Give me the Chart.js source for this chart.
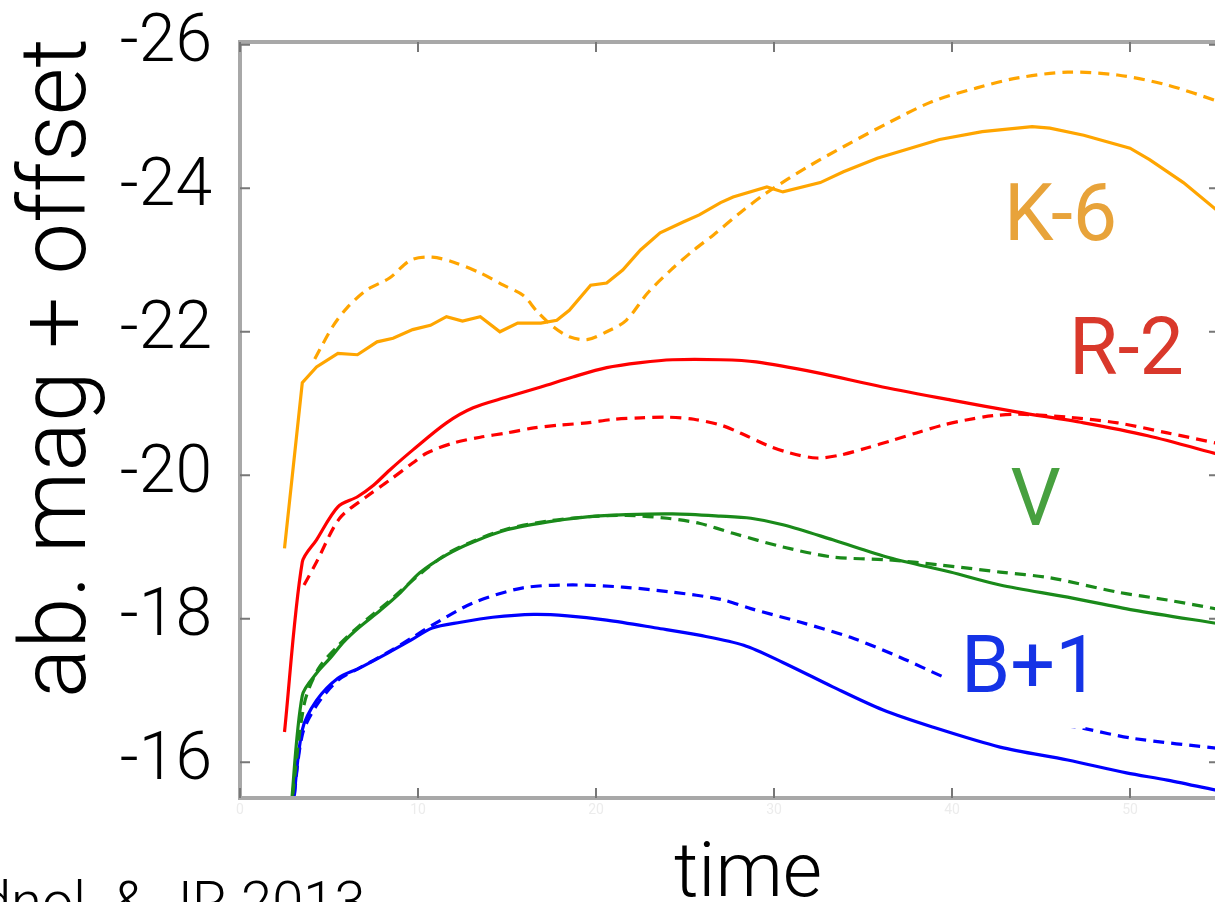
<!DOCTYPE html>
<html>
<head>
<meta charset="utf-8">
<script src="https://cdn.jsdelivr.net/npm/chart.js@4.4.1/dist/chart.umd.min.js"></script>
<style>
html, body { margin: 0; padding: 0; background: #fff; overflow: hidden; }
#wrap { width: 1215px; height: 902px; overflow: hidden; position: relative; }
#grafico { position: absolute; left: 0; top: 0; }
</style>
</head>
<body>
<div id="wrap"><canvas id="grafico" width="1224" height="902"></canvas></div>
<script>
// K-6
const kSolidT = [2.5, 3.5, 4.3, 5.5, 6.6, 7.7, 8.6, 9.7, 10.7, 11.6, 12.5, 13.5, 14.6, 15.6, 16.9, 17.8, 18.5, 19.7, 20.6, 21.5, 22.5, 23.6, 24.9, 25.8, 27.0, 27.7, 29.6, 30.5, 32.6, 33.9, 35.8, 39.3, 41.7, 44.5, 45.5, 47.4, 50.0, 51.1, 53.0, 55.0]
const kSolidMag = [-18.98, -21.29, -21.51, -21.70, -21.68, -21.86, -21.91, -22.03, -22.09, -22.21, -22.15, -22.21, -22.00, -22.12, -22.12, -22.16, -22.30, -22.65, -22.68, -22.86, -23.14, -23.38, -23.53, -23.63, -23.80, -23.88, -24.02, -23.95, -24.08, -24.23, -24.42, -24.68, -24.79, -24.86, -24.84, -24.74, -24.56, -24.40, -24.08, -23.67]
const kDashT = [4.2, 5.2, 6.0, 7.1, 8.4, 9.6, 10.8, 12.0, 13.5, 14.8, 15.9, 16.7, 17.6, 18.5, 19.5, 20.6, 21.7, 22.9, 24.2, 25.5, 26.6, 28.1, 29.6, 31.9, 33.9, 36.4, 38.9, 41.4, 43.7, 46.5, 49.3, 52.1, 55.0]
const kDashMag = [-21.62, -22.07, -22.33, -22.58, -22.75, -23.00, -23.04, -22.97, -22.82, -22.65, -22.51, -22.28, -22.07, -21.93, -21.89, -22.00, -22.16, -22.54, -22.86, -23.14, -23.35, -23.66, -23.94, -24.30, -24.58, -24.91, -25.21, -25.40, -25.54, -25.62, -25.58, -25.44, -25.21]

// R-2
const rSolidT = [2.5, 3.5, 4.3, 5.5, 6.6, 7.5, 8.4, 9.7, 11.6, 13.1, 15.0, 16.9, 18.7, 20.6, 22.5, 24.3, 27.0, 29.0, 32.4, 36.1, 39.9, 43.7, 47.4, 51.0, 55.0]
const rSolidMag = [-16.42, -18.79, -19.10, -19.56, -19.70, -19.86, -20.07, -20.35, -20.73, -20.94, -21.09, -21.23, -21.37, -21.50, -21.57, -21.61, -21.61, -21.58, -21.43, -21.23, -21.05, -20.88, -20.73, -20.55, -20.29]
const rDashT = [3.6, 4.3, 5.6, 7.1, 8.4, 9.7, 10.5, 12.0, 13.5, 15.0, 16.5, 18.0, 19.5, 21.0, 22.5, 24.0, 25.5, 27.0, 28.1, 29.6, 30.9, 32.4, 33.7, 35.2, 36.7, 38.0, 39.5, 40.8, 42.3, 43.8, 46.5, 49.3, 52.1, 55.0]
const rDashMag = [-18.47, -18.79, -19.40, -19.70, -19.93, -20.17, -20.31, -20.45, -20.53, -20.59, -20.66, -20.70, -20.73, -20.78, -20.80, -20.81, -20.78, -20.70, -20.59, -20.42, -20.31, -20.24, -20.28, -20.38, -20.49, -20.59, -20.70, -20.77, -20.83, -20.85, -20.81, -20.73, -20.59, -20.44]

// V
const gSolidT = [2.85, 3.5, 4.3, 5.1, 5.8, 6.7, 7.9, 9.0, 10.1, 11.6, 13.1, 15.0, 17.3, 19.5, 21.7, 24.3, 27.0, 28.7, 30.5, 33.3, 36.5, 39.9, 42.7, 46.5, 50.2, 55.0]
const gSolidMag = [-15.3, -16.93, -17.24, -17.46, -17.67, -17.88, -18.12, -18.36, -18.64, -18.89, -19.07, -19.24, -19.35, -19.42, -19.45, -19.46, -19.43, -19.40, -19.31, -19.10, -18.85, -18.65, -18.47, -18.30, -18.12, -17.93]
const gDashT = [2.85, 3.6, 4.4, 5.5, 6.7, 8.4, 10.1, 11.6, 13.1, 15.0, 17.3, 19.5, 21.7, 24.0, 25.8, 27.7, 30.5, 33.3, 36.4, 39.3, 42.7, 45.5, 49.3, 52.1, 55.0]
const gDashMag = [-15.3, -16.8, -17.3, -17.62, -17.9, -18.25, -18.62, -18.9, -19.08, -19.25, -19.36, -19.42, -19.44, -19.40, -19.33, -19.19, -19.00, -18.86, -18.82, -18.75, -18.65, -18.57, -18.37, -18.26, -18.13]

// B+1
const bSolidT = [2.95, 3.5, 4.3, 5.5, 6.7, 8.3, 9.6, 10.8, 12.4, 14.2, 16.5, 18.4, 20.6, 23.4, 25.8, 28.3, 30.5, 33.3, 36.1, 38.9, 42.7, 46.5, 49.8, 52.1, 55.0]
const bSolidMag = [-15.3, -16.45, -16.86, -17.17, -17.31, -17.52, -17.70, -17.87, -17.95, -18.02, -18.06, -18.04, -17.98, -17.87, -17.77, -17.63, -17.39, -17.05, -16.73, -16.49, -16.21, -16.03, -15.85, -15.75, -15.60]
const bDashT = [2.95, 3.5, 4.3, 5.5, 6.7, 8.3, 9.7, 10.8, 13.1, 15.9, 18.7, 21.5, 24.3, 27.0, 28.7, 31.5, 34.3, 37.1, 39.5, 42.7, 45.5, 47.4, 50.2, 55.0]
const bDashMag = [-15.3, -16.38, -16.79, -17.14, -17.31, -17.53, -17.74, -17.91, -18.22, -18.43, -18.47, -18.44, -18.37, -18.27, -18.14, -17.95, -17.74, -17.46, -17.19, -16.86, -16.56, -16.47, -16.33, -16.19]

const fonte = 'Roboto, "Liberation Sans", sans-serif'

// etiquetas das bandas (posição em unidades dos eixos)
const etiquetas = [
    { texto: 'K-6', cor: '#E8A33A', t: 46.1, mag: -23.55 },
    { texto: 'R-2', cor: '#D9382B', t: 49.8, mag: -21.68 },
    { texto: 'V', cor: '#47A03F', t: 44.7, mag: -19.58 },
    { texto: 'B+1', cor: '#1533E6', t: 44.4, mag: -17.26, caixa: [39.6, 47.5, -17.8, -16.47] }
]

function pontos(t, mag) {
    return t.map((v, i) => ({ x: v, y: mag[i] }))
}

function serie(t, mag, cor, tracejado, tensao) {
    return {
        data: pontos(t, mag),
        borderColor: cor,
        borderWidth: 3.2,
        borderDash: tracejado ? [11, 7] : [],
        pointRadius: 0,
        tension: tensao,
        fill: false
    }
}

const pluginEtiquetas = {
    id: 'etiquetas',
    afterDatasetsDraw(chart) {
        const ctx = chart.ctx
        const x = chart.scales.x
        const y = chart.scales.y
        ctx.save()
        etiquetas.forEach(e => {
            if (e.caixa) {
                const x0 = x.getPixelForValue(e.caixa[0])
                const x1 = x.getPixelForValue(e.caixa[1])
                const y0 = y.getPixelForValue(e.caixa[2])
                const y1 = y.getPixelForValue(e.caixa[3])
                ctx.fillStyle = '#fff'
                ctx.fillRect(x0, y0, x1 - x0, y1 - y0)
            }
            ctx.fillStyle = e.cor
            ctx.font = '400 79px ' + fonte
            ctx.textAlign = 'center'
            ctx.textBaseline = 'middle'
            ctx.fillText(e.texto, x.getPixelForValue(e.t), y.getPixelForValue(e.mag))
        })
        ctx.restore()
    }
}

const pluginMoldura = {
    id: 'moldura',
    afterDraw(chart) {
        const ctx = chart.ctx
        const a = chart.chartArea
        const x = chart.scales.x
        const y = chart.scales.y
        ctx.save()
        ctx.strokeStyle = '#a8a8a8'
        ctx.lineWidth = 4
        ctx.strokeRect(a.left, a.top, a.right - a.left, a.bottom - a.top)
        ctx.strokeStyle = '#777'
        ctx.lineWidth = 2
        ctx.beginPath()
        x.ticks.forEach(tk => {
            const px = x.getPixelForValue(tk.value)
            ctx.moveTo(px, a.bottom)
            ctx.lineTo(px, a.bottom - 10)
            ctx.moveTo(px, a.top)
            ctx.lineTo(px, a.top + 10)
        })
        y.ticks.forEach(tk => {
            const py = y.getPixelForValue(tk.value)
            ctx.moveTo(a.left, py)
            ctx.lineTo(a.left + 10, py)
            ctx.moveTo(a.right, py)
            ctx.lineTo(a.right - 10, py)
        })
        ctx.stroke()

        // títulos dos eixos e crédito
        ctx.fillStyle = '#000'
        ctx.font = '300 76px ' + fonte
        ctx.textAlign = 'center'
        ctx.textBaseline = 'alphabetic'
        ctx.fillText('time', 748, 896)

        ctx.textAlign = 'left'
        ctx.font = '300 56px ' + fonte
        ctx.fillText('dnol. & JR 2013', -20, 921)

        ctx.translate(85, 368)
        ctx.rotate(-Math.PI / 2)
        ctx.textAlign = 'center'
        ctx.font = '300 92px ' + fonte
        ctx.fillText('ab. mag + offset', 0, 0)
        ctx.restore()
    }
}

const grafico = document.getElementById('grafico')

const graficoCurvas = new Chart(grafico, {
    type: 'line',
    data: {
        datasets: [
            serie(kDashT, kDashMag, '#FFA500', true, 0.3),
            serie(kSolidT, kSolidMag, '#FFA500', false, 0),
            serie(rDashT, rDashMag, '#FF0000', true, 0.3),
            serie(rSolidT, rSolidMag, '#FF0000', false, 0.3),
            serie(gDashT, gDashMag, '#1A8A1A', true, 0.3),
            serie(gSolidT, gSolidMag, '#1A8A1A', false, 0.3),
            serie(bDashT, bDashMag, '#0000FF', true, 0.3),
            serie(bSolidT, bSolidMag, '#0000FF', false, 0.3)
        ]
    },
    options: {
        responsive: false,
        animation: false,
        layout: { padding: { top: 42, right: 5, left: 0, bottom: 0 } },
        plugins: {
            legend: { display: false },
            tooltip: { enabled: false }
        },
        scales: {
            x: {
                type: 'linear',
                min: 0,
                max: 55,
                grid: { display: false, drawTicks: false },
                border: { display: false },
                ticks: {
                    stepSize: 10,
                    includeBounds: false,
                    color: '#ececec',
                    font: { family: fonte, size: 14 },
                    padding: 4
                },
                afterFit: s => {
                    s.height = 104
                    s.paddingLeft = 0
                    s.paddingRight = 0
                }
            },
            y: {
                type: 'linear',
                reverse: true,
                min: -26.04,
                max: -15.5,
                grid: { display: false, drawTicks: false },
                border: { display: false },
                ticks: {
                    stepSize: 2,
                    includeBounds: false,
                    color: '#000',
                    font: { family: fonte, size: 66, weight: 300 },
                    padding: 28
                },
                afterFit: s => {
                    s.width = 240
                    s.paddingTop = 0
                    s.paddingBottom = 0
                }
            }
        }
    },
    plugins: [pluginEtiquetas, pluginMoldura]
});
</script>
</body>
</html>
